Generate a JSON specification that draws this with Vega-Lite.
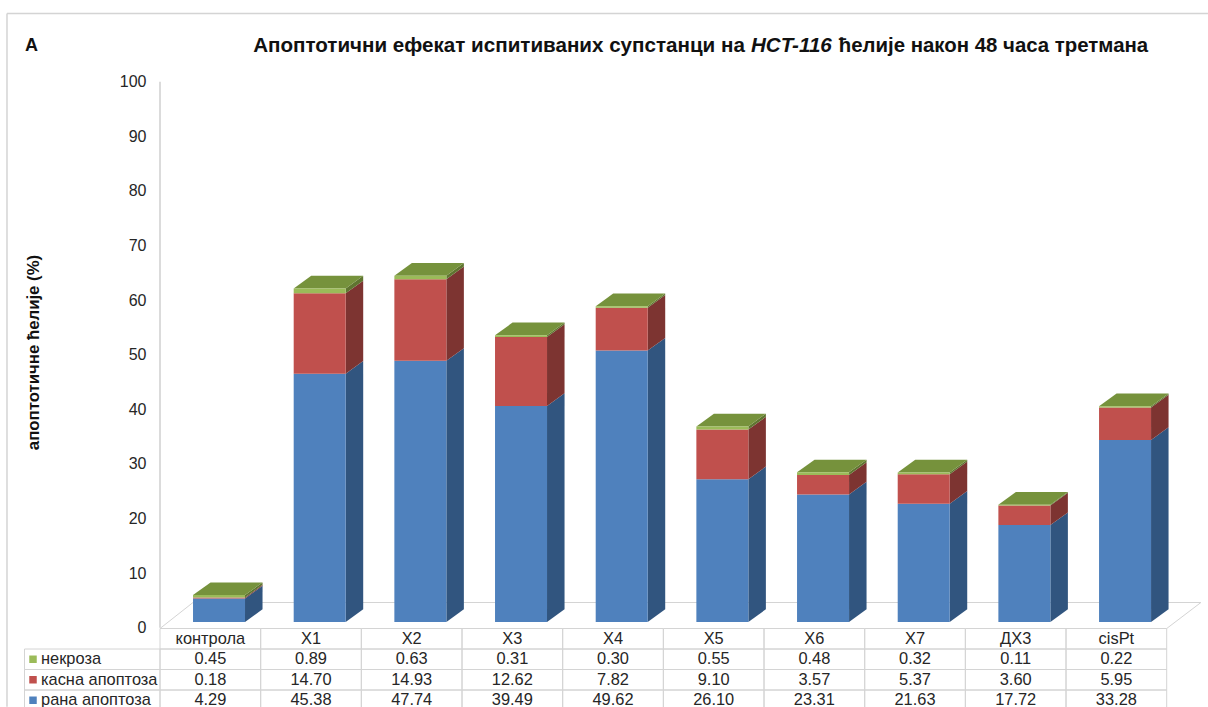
{
  "$schema": "https://vega.github.io/schema/vega-lite/v6.json",
  "width": 1208,
  "height": 707,
  "padding": 0,
  "autosize": {"type": "none"},
  "background": "white",
  "config": {"view": {"stroke": null}, "text": {"font": "Liberation Sans"}},
  "data": {"values": [
    {"group": "контрола", "series": "рана апоптоза", "value": 4.29},
    {"group": "контрола", "series": "касна апоптоза", "value": 0.18},
    {"group": "контрола", "series": "некроза", "value": 0.45},
    {"group": "Х1", "series": "рана апоптоза", "value": 45.38},
    {"group": "Х1", "series": "касна апоптоза", "value": 14.70},
    {"group": "Х1", "series": "некроза", "value": 0.89},
    {"group": "Х2", "series": "рана апоптоза", "value": 47.74},
    {"group": "Х2", "series": "касна апоптоза", "value": 14.93},
    {"group": "Х2", "series": "некроза", "value": 0.63},
    {"group": "Х3", "series": "рана апоптоза", "value": 39.49},
    {"group": "Х3", "series": "касна апоптоза", "value": 12.62},
    {"group": "Х3", "series": "некроза", "value": 0.31},
    {"group": "Х4", "series": "рана апоптоза", "value": 49.62},
    {"group": "Х4", "series": "касна апоптоза", "value": 7.82},
    {"group": "Х4", "series": "некроза", "value": 0.30},
    {"group": "Х5", "series": "рана апоптоза", "value": 26.10},
    {"group": "Х5", "series": "касна апоптоза", "value": 9.10},
    {"group": "Х5", "series": "некроза", "value": 0.55},
    {"group": "Х6", "series": "рана апоптоза", "value": 23.31},
    {"group": "Х6", "series": "касна апоптоза", "value": 3.57},
    {"group": "Х6", "series": "некроза", "value": 0.48},
    {"group": "Х7", "series": "рана апоптоза", "value": 21.63},
    {"group": "Х7", "series": "касна апоптоза", "value": 5.37},
    {"group": "Х7", "series": "некроза", "value": 0.32},
    {"group": "ДХ3", "series": "рана апоптоза", "value": 17.72},
    {"group": "ДХ3", "series": "касна апоптоза", "value": 3.60},
    {"group": "ДХ3", "series": "некроза", "value": 0.11},
    {"group": "cisPt", "series": "рана апоптоза", "value": 33.28},
    {"group": "cisPt", "series": "касна апоптоза", "value": 5.95},
    {"group": "cisPt", "series": "некроза", "value": 0.22}
  ]},
  "transform": [
    {"window": [{"op": "row_number", "as": "n"}], "groupby": ["series"]},
    {"calculate": "datum.n - 1", "as": "col"},
    {"calculate": "datum.col + 1", "as": "colEnd"},
    {"calculate": "indexof(['рана апоптоза','касна апоптоза','некроза'], datum.series)", "as": "ord"},
    {"stack": "value", "groupby": ["group"], "sort": [{"field": "ord", "order": "ascending"}], "as": ["v0", "v1"]},
    {"calculate": "datum.col + 0.328", "as": "barL"},
    {"calculate": "datum.col + 0.8445", "as": "barR"},
    {"calculate": "datum.series + ' бок'", "as": "sideFace"},
    {"calculate": "'врх'", "as": "topFace"}
  ],
  "resolve": {"scale": {"y": "independent"}},
  "layer": [
    {
      "description": "Value axis and the wall line it sits on",
      "data": {"values": [{}]},
      "mark": {"type": "rule", "stroke": "#cfcfcf", "strokeWidth": 1.5},
      "encoding": {
        "x": {"datum": 0, "type": "quantitative", "axis": null,
              "scale": {"domain": [-1.5894, 10.4103], "nice": false, "zero": false}},
        "y": {"datum": 0, "type": "quantitative",
              "scale": {"domain": [-14.52, 114.96], "nice": false, "zero": false},
              "axis": {
                "values": [0, 10, 20, 30, 40, 50, 60, 70, 80, 90, 100],
                "orient": "left", "offset": -160, "domain": false, "ticks": false, "grid": false,
                "labelPadding": 14, "labelFont": "Liberation Sans", "labelFontSize": 16, "labelColor": "#262626",
                "title": "апоптотичне ћелије (%)", "titleFont": "Liberation Sans", "titleFontSize": 16.8,
                "titleFontWeight": "bold", "titleColor": "#111111", "titleX": -127, "titleY": 352, "titleAngle": -90,
                "titleAlign": "center", "titleBaseline": "middle"
              }},
        "y2": {"datum": 100}
      }
    },
    {
      "description": "Chart area: frame, floor, 3D stacked bars and headings",
      "layer": [
        {
          "data": {"values": [{}]},
          "mark": {"type": "rule", "stroke": "#d4d4d4", "strokeWidth": 1.5},
          "encoding": {
            "x": {"datum": -1.52, "type": "quantitative", "axis": null},
            "x2": {"datum": 10.41},
            "y": {"datum": 111.24, "type": "quantitative", "axis": null,
                  "scale": {"domain": [-15.539, 113.71], "nice": false, "zero": false}}
          }
        },
        {
          "data": {"values": [{}]},
          "mark": {"type": "rule", "stroke": "#d4d4d4", "strokeWidth": 1.5},
          "encoding": {
            "x": {"datum": -1.52, "type": "quantitative"},
            "y": {"datum": 111.24, "type": "quantitative"},
            "y2": {"datum": -15.5}
          }
        },
        {
          "data": {"values": [{}]},
          "mark": {"type": "rule", "stroke": "#d4d4d4", "strokeWidth": 1},
          "encoding": {
            "x": {"datum": 0.328, "type": "quantitative"},
            "x2": {"datum": 10.34},
            "y": {"datum": 3.565, "type": "quantitative"}
          }
        },
        {
          "data": {"values": [{}]},
          "mark": {"type": "rule", "stroke": "#d4d4d4", "strokeWidth": 1},
          "encoding": {
            "x": {"datum": 0, "type": "quantitative"},
            "x2": {"datum": 0.328},
            "y": {"datum": -1.19, "type": "quantitative"},
            "y2": {"datum": 3.565}
          }
        },
        {
          "data": {"values": [{}]},
          "mark": {"type": "rule", "stroke": "#d4d4d4", "strokeWidth": 1},
          "encoding": {
            "x": {"datum": 10, "type": "quantitative"},
            "x2": {"datum": 10.34},
            "y": {"datum": -1.19, "type": "quantitative"},
            "y2": {"datum": 3.565}
          }
        },
        {
          "transform": [
            {"calculate": "[0, 1]", "as": "k"},
            {"flatten": ["k"]},
            {"calculate": "datum.barR + datum.k * 0.174", "as": "sx"},
            {"calculate": "datum.v0 + datum.k * 2.32", "as": "sy0"},
            {"calculate": "datum.v1 + datum.k * 2.32", "as": "sy1"}
          ],
          "mark": {"type": "area", "orient": "vertical", "opacity": 1},
          "encoding": {
            "x": {"field": "sx", "type": "quantitative"},
            "y": {"field": "sy1", "type": "quantitative", "stack": null},
            "y2": {"field": "sy0"},
            "detail": {"field": "group"},
            "color": {"field": "sideFace", "type": "nominal", "legend": null,
                      "scale": {"domain": ["некроза", "касна апоптоза", "рана апоптоза", "некроза бок", "касна апоптоза бок", "рана апоптоза бок", "врх"],
                                "range": ["#9bbb59", "#c0504d", "#4f81bd", "#5f7530", "#7d3431", "#31557f", "#76923c"]}}
          }
        },
        {
          "transform": [
            {"filter": "datum.series === 'некроза'"},
            {"calculate": "[0, 1]", "as": "k"},
            {"flatten": ["k"]},
            {"calculate": "datum.barL + datum.k * 0.174", "as": "tx0"},
            {"calculate": "datum.barR + datum.k * 0.174", "as": "tx1"},
            {"calculate": "datum.v1 + datum.k * 2.32", "as": "ty"}
          ],
          "mark": {"type": "area", "orient": "horizontal", "opacity": 1},
          "encoding": {
            "y": {"field": "ty", "type": "quantitative", "stack": null},
            "x": {"field": "tx0", "type": "quantitative"},
            "x2": {"field": "tx1"},
            "detail": {"field": "group"},
            "color": {"field": "topFace", "type": "nominal", "legend": null}
          }
        },
        {
          "mark": {"type": "rect"},
          "encoding": {
            "x": {"field": "barL", "type": "quantitative"},
            "x2": {"field": "barR"},
            "y": {"field": "v1", "type": "quantitative"},
            "y2": {"field": "v0"},
            "color": {"field": "series", "type": "nominal", "legend": null}
          }
        },
        {
          "data": {"values": [{"label": "A"}]},
          "mark": {"type": "text", "fontWeight": "bold", "fontSize": 18, "align": "left", "baseline": "middle", "fill": "#111111"},
          "encoding": {
            "x": {"datum": -1.34, "type": "quantitative"},
            "y": {"datum": 105.35, "type": "quantitative"},
            "text": {"field": "label"}
          }
        },
        {
          "data": {"values": [{"label": "Апоптотични ефекат испитиваних супстанци на"}]},
          "mark": {"type": "text", "fontWeight": "bold", "fontSize": 20.6, "align": "right", "baseline": "middle", "fill": "#111111"},
          "encoding": {
            "x": {"datum": 5.81, "type": "quantitative"},
            "y": {"datum": 105.35, "type": "quantitative"},
            "text": {"field": "label"}
          }
        },
        {
          "data": {"values": [{"label": "HCT-116"}]},
          "mark": {"type": "text", "fontWeight": "bold", "fontStyle": "italic", "fontSize": 20.6, "align": "left", "baseline": "middle", "fill": "#111111"},
          "encoding": {
            "x": {"datum": 5.87, "type": "quantitative"},
            "y": {"datum": 105.35, "type": "quantitative"},
            "text": {"field": "label"}
          }
        },
        {
          "data": {"values": [{"label": "ћелије након 48 часа третмана"}]},
          "mark": {"type": "text", "fontWeight": "bold", "fontSize": 20.4, "align": "right", "baseline": "middle", "fill": "#111111"},
          "encoding": {
            "x": {"datum": 9.816, "type": "quantitative"},
            "y": {"datum": 105.35, "type": "quantitative"},
            "text": {"field": "label"}
          }
        }
      ]
    },
    {
      "description": "Data table under the bars",
      "layer": [
        {
          "mark": {"type": "rect", "fill": "transparent", "stroke": "#d4d4d4", "strokeWidth": 1},
          "encoding": {
            "x": {"field": "col", "type": "quantitative"},
            "x2": {"field": "colEnd"},
            "y": {"field": "series", "type": "nominal", "axis": null,
                  "scale": {"type": "band", "domain": ["заглавље", "некроза", "касна апоптоза", "рана апоптоза"],
                            "range": [628.5, 710.5], "paddingInner": 0, "paddingOuter": 0}}
          }
        },
        {
          "transform": [{"filter": "datum.series === 'некроза'"}],
          "mark": {"type": "rect", "fill": "transparent", "stroke": "#d4d4d4", "strokeWidth": 1},
          "encoding": {
            "x": {"field": "col", "type": "quantitative"},
            "x2": {"field": "colEnd"},
            "y": {"datum": "заглавље", "type": "nominal"}
          }
        },
        {
          "transform": [{"filter": "datum.col === 0"}],
          "mark": {"type": "rect", "fill": "transparent", "stroke": "#d4d4d4", "strokeWidth": 1},
          "encoding": {
            "x": {"datum": -1.346, "type": "quantitative"},
            "x2": {"datum": 0},
            "y": {"field": "series", "type": "nominal"}
          }
        },
        {
          "mark": {"type": "text", "fontSize": 16.4, "fill": "#262626", "align": "center", "baseline": "middle"},
          "transform": [{"calculate": "datum.col + 0.5", "as": "mid"}],
          "encoding": {
            "x": {"field": "mid", "type": "quantitative"},
            "y": {"field": "series", "type": "nominal"},
            "text": {"field": "value", "type": "quantitative", "format": ".2f"}
          }
        },
        {
          "transform": [{"filter": "datum.series === 'некроза'"}, {"calculate": "datum.col + 0.5", "as": "mid"}],
          "mark": {"type": "text", "fontSize": 16.4, "fill": "#262626", "align": "center", "baseline": "middle"},
          "encoding": {
            "x": {"field": "mid", "type": "quantitative"},
            "y": {"datum": "заглавље", "type": "nominal"},
            "text": {"field": "group", "type": "nominal"}
          }
        },
        {
          "transform": [{"filter": "datum.col === 0"}],
          "mark": {"type": "text", "fontSize": 16.4, "fill": "#262626", "align": "left", "baseline": "middle"},
          "encoding": {
            "x": {"datum": -1.182, "type": "quantitative"},
            "y": {"field": "series", "type": "nominal"},
            "text": {"field": "series", "type": "nominal"}
          }
        },
        {
          "transform": [{"filter": "datum.col === 0"}],
          "mark": {"type": "square", "size": 56, "filled": true, "opacity": 1},
          "encoding": {
            "x": {"datum": -1.2615, "type": "quantitative"},
            "y": {"field": "series", "type": "nominal"},
            "color": {"field": "series", "type": "nominal", "legend": null}
          }
        }
      ]
    }
  ]
}
